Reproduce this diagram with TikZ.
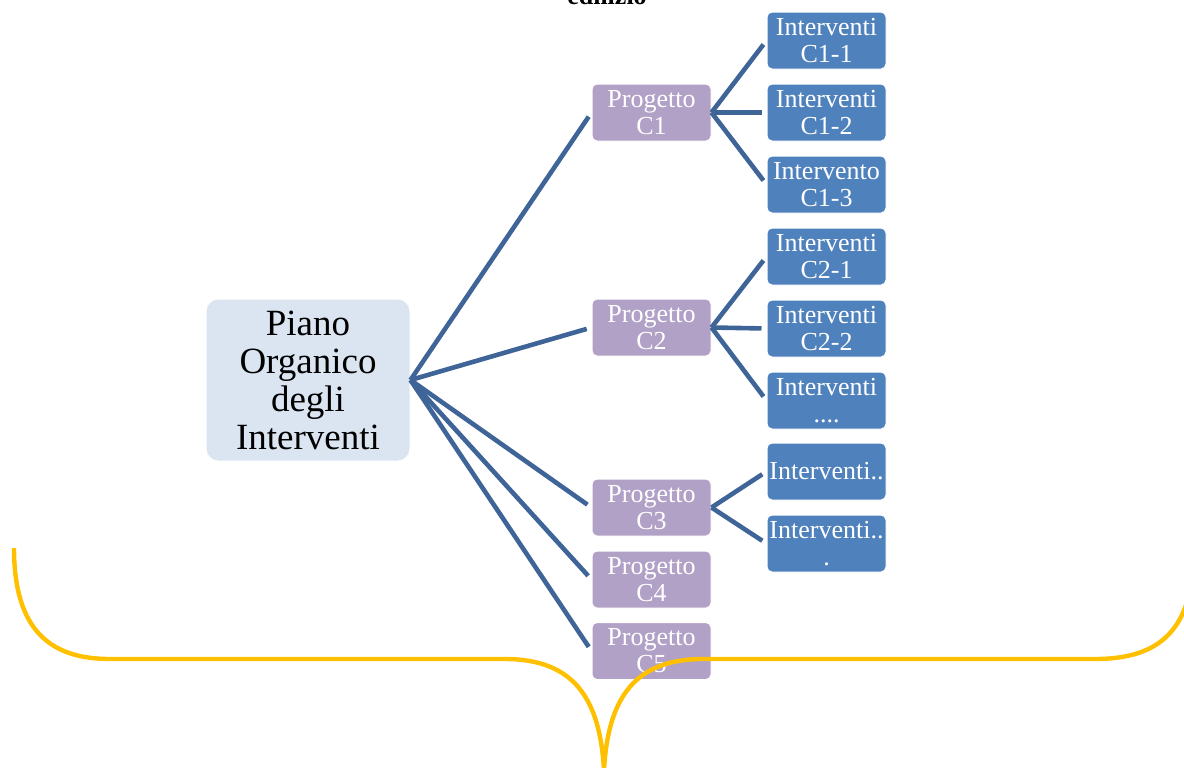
\documentclass[tikz,border=0pt]{standalone}
\usepackage{fontspec}
\setmainfont{Liberation Serif}
\usetikzlibrary{positioning}
\definecolor{mainfill}{HTML}{DBE5F1}
\definecolor{projfill}{HTML}{B2A1C7}
\definecolor{intfill}{HTML}{4F81BD}
\definecolor{edgeblue}{HTML}{3F6497}
\definecolor{braceyellow}{HTML}{FFC000}

\begin{document}
\begin{tikzpicture}[x=0.5pt,y=-0.5pt]
\tikzset{
  mainbox/.style={rectangle,rounded corners=6pt,fill=mainfill,draw=white,line width=0.5pt,minimum width=102pt,minimum height=81pt,inner sep=0pt,align=center,font=\fontsize{18.5}{19}\selectfont},
  projbox/.style={rectangle,rounded corners=2.5pt,fill=projfill,draw=white,line width=0.5pt,minimum width=59.5pt,minimum height=28.5pt,inner sep=0pt,align=center,text=white,font=\fontsize{13}{13.5}\selectfont},
  intbox/.style={projbox,fill=intfill},
  treeedge/.style={draw=edgeblue,line width=2.3pt,shorten >=2.5pt},
  bracecurve/.style={draw=braceyellow,line width=2.2pt}
}
\useasboundingbox (0,0) rectangle (1184,767);
\node[font=\bfseries\fontsize{13}{15}\selectfont,anchor=base] (n_title) at (607,4) {edilizio};
\node[mainbox] (n_piano) at (308,380) {Piano\\Organico\\degli\\Interventi};
\node[projbox] (n_C1) at (651.5,112.5) {Progetto\\C1};
\node[projbox] (n_C2) at (651.5,327.5) {Progetto\\C2};
\node[projbox] (n_C3) at (651.5,507.5) {Progetto\\C3};
\node[projbox] (n_C4) at (651.5,579.5) {Progetto\\C4};
\node[projbox] (n_C5) at (651.5,651) {Progetto\\C5};
\node[intbox] (n_C1_1) at (826.5,40.5) {Interventi\\C1-1};
\node[intbox] (n_C1_2) at (826.5,112.5) {Interventi\\C1-2};
\node[intbox] (n_C1_3) at (826.5,184.5) {Intervento\\C1-3};
\node[intbox] (n_C2_1) at (826.5,256.5) {Interventi\\C2-1};
\node[intbox] (n_C2_2) at (826.5,328.5) {Interventi\\C2-2};
\node[intbox] (n_C2_3) at (826.5,400.5) {Interventi\\....};
\node[intbox] (n_C3_1) at (826.5,471.5) {Interventi..};
\node[intbox] (n_C3_2) at (826.5,543.5) {Interventi..\\.};
\draw[treeedge] (n_piano.east) -- (n_C1.west);
\draw[treeedge] (n_piano.east) -- (n_C2.west);
\draw[treeedge] (n_piano.east) -- (n_C3.west);
\draw[treeedge] (n_piano.east) -- (n_C4.west);
\draw[treeedge] (n_piano.east) -- (n_C5.west);
\draw[treeedge] (n_C1.east) -- (n_C1_1.west);
\draw[treeedge] (n_C1.east) -- (n_C1_2.west);
\draw[treeedge] (n_C1.east) -- (n_C1_3.west);
\draw[treeedge] (n_C2.east) -- (n_C2_1.west);
\draw[treeedge] (n_C2.east) -- (n_C2_2.west);
\draw[treeedge] (n_C2.east) -- (n_C2_3.west);
\draw[treeedge] (n_C3.east) -- (n_C3_1.west);
\draw[treeedge] (n_C3.east) -- (n_C3_2.west);
% brace under the projects
\draw[bracecurve] (14,548) .. controls (14,630) and (50,659) .. (110,659) -- (505,659)
  .. controls (575,659) and (600,700) .. (604,770)
  .. controls (608,700) and (633,659) .. (703,659) -- (1095,659)
  .. controls (1160,659) and (1194,630) .. (1194,548);
\end{tikzpicture}
\end{document}
